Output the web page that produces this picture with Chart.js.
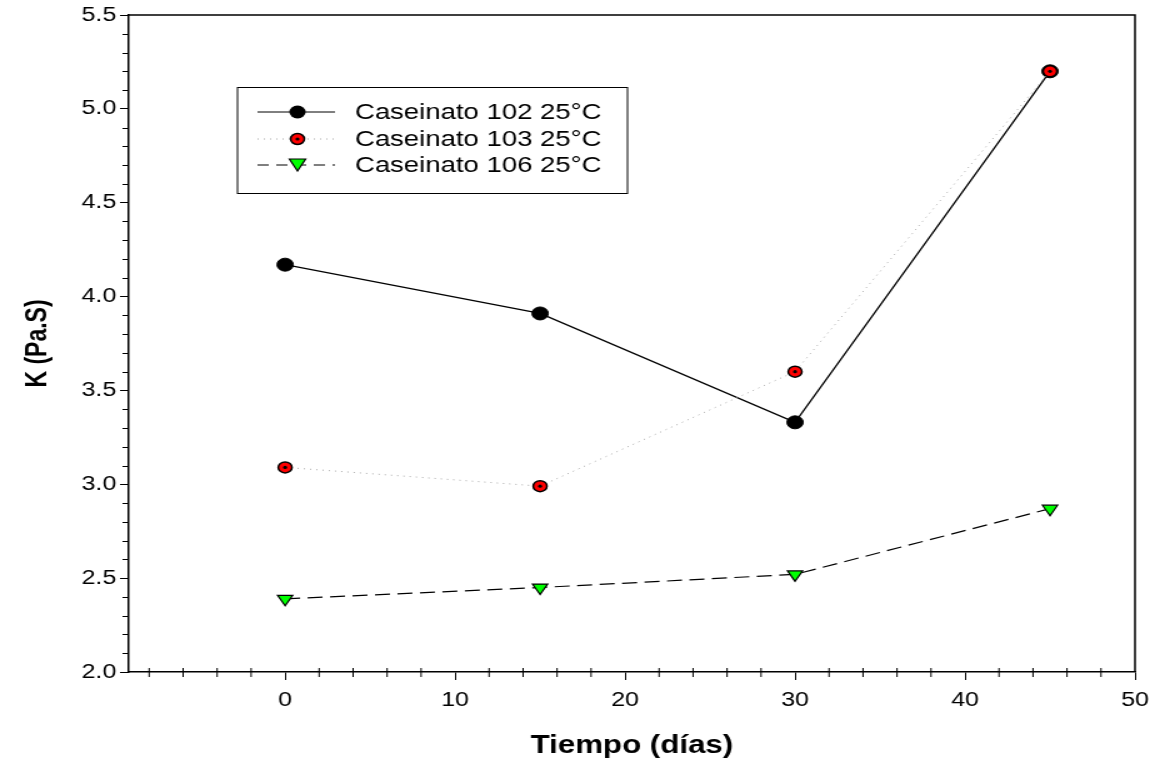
<!DOCTYPE html>
<html>
<head>
<meta charset="utf-8">
<script src="https://cdn.jsdelivr.net/npm/chart.js@4"></script>
<style>
  html, body { margin: 0; padding: 0; background: #fff; }
  #wrap { width: 1160px; height: 765px; position: relative; }
  /* the original picture is stretched sideways, so draw narrow and stretch */
  #chart { display: block; }
</style>
</head>
<body>
<div id="wrap"><canvas id="chart" width="928" height="765" style="width:1160px;height:765px"></canvas></div>
<script>
// data
const dias = [0, 15, 30, 45];
const cas102 = [4.17, 3.91, 3.33, 5.20];
const cas103 = [3.09, 2.99, 3.60, 5.20];
const cas106 = [2.39, 2.45, 2.52, 2.87];
const xTicks = [0, 10, 20, 30, 40, 50];
const seriesNames = ['Caseinato 102 25°C', 'Caseinato 103 25°C', 'Caseinato 106 25°C'];

const FONT = "'Liberation Sans', Arial, sans-serif";

function pts(ys) {
    return dias.map((d, i) => ({ x: d, y: ys[i] }));
}

// frame, minor ticks, red marker dots and the legend box
const extras = {
    id: 'extras',
    afterDraw(chart) {
        const ctx = chart.ctx;
        const a = chart.chartArea;
        const xs = chart.scales.x, ys = chart.scales.y;
        ctx.save();
        ctx.strokeStyle = '#000';
        ctx.lineWidth = 1.5;
        ctx.beginPath();
        ctx.moveTo(a.left, a.top);
        ctx.lineTo(a.right, a.top);
        ctx.lineTo(a.right, a.bottom);
        ctx.stroke();

        // minor ticks
        ctx.lineWidth = 1;
        ctx.beginPath();
        for (let v = -8; v < 50; v += 2) {
            if (v % 10 === 0) continue;
            const px = xs.getPixelForValue(v);
            ctx.moveTo(px, a.bottom - 4);
            ctx.lineTo(px, a.bottom + 5);
        }
        for (let k = 20; k <= 55; k++) {
            if (k % 5 === 0) continue;
            const py = Math.round(ys.getPixelForValue(k / 10)) + 0.5;
            ctx.moveTo(a.left - 5, py);
            ctx.lineTo(a.left, py);
        }
        ctx.stroke();
        ctx.restore();
    },
    afterDatasetsDraw(chart) {
        const ctx = chart.ctx;
        const meta = chart.getDatasetMeta(1);
        ctx.save();
        ctx.fillStyle = '#000';
        meta.data.forEach(p => {
            ctx.beginPath();
            ctx.arc(p.x, p.y, 1.6, 0, Math.PI * 2);
            ctx.fill();
        });

        // legend
        const lx = 190, ly = 87, lw = 312, lh = 106;
        ctx.fillStyle = '#fff';
        ctx.fillRect(lx, ly, lw, lh);
        ctx.strokeStyle = '#000';
        ctx.lineWidth = 1;
        ctx.strokeRect(lx, ly + 0.5, lw, lh);
        const rows = [112, 139, 165];
        const cx = 238;
        ctx.font = '22px ' + FONT;
        ctx.textBaseline = 'middle';
        rows.forEach((ry, i) => {
            ctx.strokeStyle = i === 1 ? '#aaa' : '#000';
            ctx.lineWidth = 1;
            ctx.setLineDash(i === 0 ? [] : i === 1 ? [1, 4] : [9, 6]);
            ctx.beginPath();
            ctx.moveTo(206, ry);
            ctx.lineTo(268, ry);
            ctx.stroke();
            ctx.setLineDash([]);
            ctx.strokeStyle = '#000';
            if (i === 0) {
                ctx.fillStyle = '#000';
                ctx.beginPath();
                ctx.arc(cx, ry, 6.5, 0, Math.PI * 2);
                ctx.fill();
            } else if (i === 1) {
                ctx.fillStyle = '#ff0000';
                ctx.lineWidth = 1.5;
                ctx.beginPath();
                ctx.arc(cx, ry, 5.5, 0, Math.PI * 2);
                ctx.fill();
                ctx.stroke();
                ctx.fillStyle = '#000';
                ctx.beginPath();
                ctx.arc(cx, ry, 1.6, 0, Math.PI * 2);
                ctx.fill();
            } else {
                ctx.fillStyle = '#00ff00';
                ctx.lineWidth = 1.2;
                ctx.beginPath();
                ctx.moveTo(cx - 6.5, ry - 6);
                ctx.lineTo(cx + 6.5, ry - 6);
                ctx.lineTo(cx, ry + 6);
                ctx.closePath();
                ctx.fill();
                ctx.stroke();
            }
            ctx.fillStyle = '#000';
            ctx.textAlign = 'left';
            ctx.fillText(seriesNames[i], 284, ry + 1);
        });
        ctx.restore();
    }
};

new Chart(document.getElementById('chart').getContext('2d'), {
    type: 'scatter',
    data: {
        datasets: [
            {
                label: seriesNames[0], data: pts(cas102), showLine: true, order: 2,
                borderColor: '#000', borderWidth: 1.3,
                pointStyle: 'circle', pointRadius: 6.5, pointBackgroundColor: '#000', pointBorderColor: '#000', pointBorderWidth: 1
            },
            {
                label: seriesNames[1], data: pts(cas103), showLine: true, order: 1,
                borderColor: '#aaa', borderWidth: 1, borderDash: [1, 4],
                pointStyle: 'circle', pointRadius: 5.5, pointBackgroundColor: '#ff0000', pointBorderColor: '#000', pointBorderWidth: 1.5
            },
            {
                label: seriesNames[2], data: pts(cas106), showLine: true, order: 3,
                borderColor: '#000', borderWidth: 1.2, borderDash: [12, 6],
                pointStyle: 'triangle', rotation: 180, pointRadius: 7, pointBackgroundColor: '#00ff00', pointBorderColor: '#000', pointBorderWidth: 1.2
            }
        ]
    },
    options: {
        responsive: false,
        animation: false,
        devicePixelRatio: 1,
        layout: { padding: { top: 5, right: 20, left: 0, bottom: 0 } },
        plugins: { legend: { display: false }, tooltip: { enabled: false } },
        scales: {
            x: {
                type: 'linear', min: -9.2, max: 50,
                afterBuildTicks: s => { s.ticks = xTicks.map(v => ({ value: v })); },
                afterFit: s => { s.height = 93; },
                grid: { drawOnChartArea: false, drawTicks: true, tickLength: 8, color: '#000', lineWidth: 1 },
                border: { color: '#000', width: 1.5 },
                ticks: { color: '#000', font: { family: FONT, size: 20 }, padding: 8, maxRotation: 0 },
                title: { display: true, text: 'Tiempo (días)', color: '#000', font: { family: FONT, size: 25, weight: 'bold' }, padding: { top: 4, bottom: 4 } }
            },
            y: {
                type: 'linear', min: 2, max: 5.5,
                afterFit: s => { s.width = 103; },
                grid: { drawOnChartArea: false, drawTicks: true, tickLength: 7, color: '#000', lineWidth: 1 },
                border: { color: '#000', width: 1.5 },
                ticks: { stepSize: 0.5, color: '#000', font: { family: FONT, size: 20 }, padding: 3, callback: v => v.toFixed(1) },
                title: { display: true, text: 'K (Pa.S)', color: '#000', font: { family: FONT, size: 23, weight: 'bold' }, padding: { top: 17, bottom: 4 } }
            }
        }
    },
    plugins: [extras]
});
</script>
</body>
</html>
